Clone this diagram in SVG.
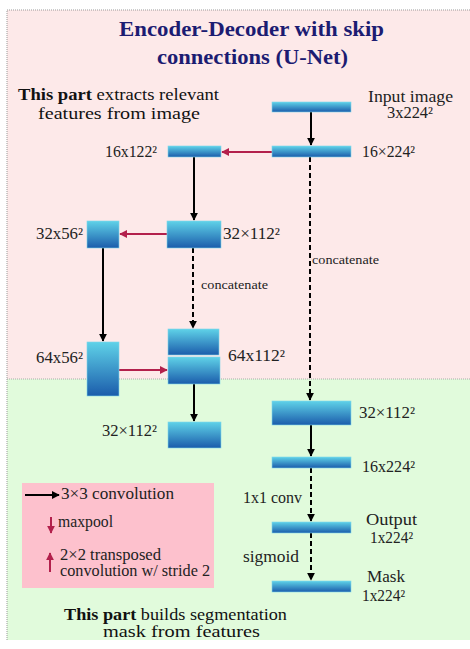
<svg xmlns="http://www.w3.org/2000/svg" width="470" height="649" viewBox="0 0 470 649">
<defs>
<linearGradient id="g" x1="0" y1="0" x2="0" y2="1">
<stop offset="0" stop-color="#5fd2e8"/>
<stop offset="1" stop-color="#1b5cab"/>
</linearGradient>
<marker id="ab" viewBox="0 0 10 10" refX="9" refY="5" markerWidth="8" markerHeight="8" markerUnits="userSpaceOnUse" orient="auto"><path d="M0,0 L10,5 L0,10 z" fill="#000"/></marker>
<marker id="ar" viewBox="0 0 10 10" refX="9" refY="5" markerWidth="8" markerHeight="8" markerUnits="userSpaceOnUse" orient="auto"><path d="M0,0 L10,5 L0,10 z" fill="#b3204c"/></marker>
</defs>
<style>
.box{fill:url(#g);stroke:#7fd8ec;stroke-width:0.6}
.t{font-family:"Liberation Serif","Times New Roman",serif;font-size:16px;fill:#222}
.s{font-family:"Liberation Serif","Times New Roman",serif;font-size:13px;fill:#222}
.b{font-family:"Liberation Serif","Times New Roman",serif;font-size:17px;fill:#111}
.title{font-family:"Liberation Serif","Times New Roman",serif;font-size:21px;font-weight:bold;fill:#1c1c72}
.blk{stroke:#000;stroke-width:2;fill:none;marker-end:url(#ab)}
.dsh{stroke:#000;stroke-width:2;fill:none;stroke-dasharray:5,3;marker-end:url(#ab)}
.red{stroke:#b3204c;stroke-width:2;fill:none;marker-end:url(#ar)}
</style>
<rect x="0" y="0" width="470" height="649" fill="#ffffff"/>
<rect x="7" y="10" width="463" height="369" fill="#fde9e9"/>
<rect x="7" y="379" width="463" height="261" fill="#e1fbdc"/>
<path d="M7,640 V10 H470" stroke="#999" stroke-width="1" stroke-dasharray="1,1" fill="none"/>
<path d="M7,379 H470" stroke="#aaa" stroke-width="1" stroke-dasharray="1,1" fill="none"/>
<g id="title">
<text class="title" x="119" y="36" textLength="265" lengthAdjust="spacingAndGlyphs">Encoder-Decoder with skip</text>
<text class="title" x="157" y="64" textLength="191" lengthAdjust="spacingAndGlyphs">connections (U-Net)</text>
</g>
<text class="b" x="18" y="100" textLength="201" lengthAdjust="spacingAndGlyphs"><tspan font-weight="bold">This part</tspan> extracts relevant</text>
<text class="b" x="38" y="119" textLength="162" lengthAdjust="spacingAndGlyphs">features from image</text>
<g id="edges">
<path class="blk" d="M311,112 V145"/>
<path class="red" d="M272,152 H222"/>
<path class="blk" d="M194,157 V220"/>
<path class="red" d="M167,234 H120"/>
<path class="blk" d="M103,248 V341"/>
<path class="dsh" d="M193,248 V328"/>
<path class="red" d="M119,370 H167"/>
<path class="dsh" d="M310,157 V400"/>
<path class="blk" d="M194,384 V421"/>
<path class="blk" d="M311,425 V456"/>
<path class="dsh" d="M311,468 V521"/>
<path class="dsh" d="M311,533 V580"/>
</g>
<text class="s" x="312" y="264" textLength="67" lengthAdjust="spacingAndGlyphs">concatenate</text>
<text class="s" x="201" y="289" textLength="67" lengthAdjust="spacingAndGlyphs">concatenate</text>
<g id="input"><rect class="box" x="272" y="102" width="79" height="10"/>
<text class="t" x="368" y="102" textLength="85" lengthAdjust="spacingAndGlyphs">Input image</text><text class="t" x="387" y="118" textLength="46" lengthAdjust="spacingAndGlyphs">3x224²</text></g>
<g id="enc1"><rect class="box" x="272" y="146" width="79" height="11"/><text class="t" x="362" y="157" textLength="53" lengthAdjust="spacingAndGlyphs">16×224²</text></g>
<g id="pool1"><rect class="box" x="168" y="146" width="53" height="11"/><text class="t" x="105" y="157" textLength="52" lengthAdjust="spacingAndGlyphs">16x122²</text></g>
<g id="enc2"><rect class="box" x="167" y="221" width="54" height="27"/><text class="t" x="223" y="239" textLength="57" lengthAdjust="spacingAndGlyphs">32×112²</text></g>
<g id="pool2"><rect class="box" x="87" y="221" width="32" height="27"/><text class="t" x="36" y="239" textLength="47" lengthAdjust="spacingAndGlyphs">32x56²</text></g>
<g id="bottleneck"><rect class="box" x="87" y="342" width="32" height="54"/><text class="t" x="36" y="363" textLength="47" lengthAdjust="spacingAndGlyphs">64x56²</text></g>
<g id="concat2"><rect class="box" x="168" y="329" width="51" height="26"/><rect class="box" x="168" y="357" width="52" height="27"/><text class="t" x="228" y="361" textLength="57" lengthAdjust="spacingAndGlyphs">64x112²</text></g>
<g id="dec2"><rect class="box" x="168" y="422" width="53" height="26"/><text class="t" x="102" y="436" textLength="55" lengthAdjust="spacingAndGlyphs">32×112²</text></g>
<g id="concat1"><rect class="box" x="272" y="401" width="79" height="24"/><text class="t" x="359" y="418" textLength="56" lengthAdjust="spacingAndGlyphs">32×112²</text></g>
<g id="dec1"><rect class="box" x="272" y="457" width="79" height="11"/><text class="t" x="362" y="472" textLength="53" lengthAdjust="spacingAndGlyphs">16x224²</text></g>
<text class="t" x="243" y="503" textLength="59" lengthAdjust="spacingAndGlyphs">1x1 conv</text>
<g id="output"><rect class="box" x="272" y="522" width="79" height="11"/><text class="t" x="366" y="525" textLength="51" lengthAdjust="spacingAndGlyphs">Output</text><text class="t" x="370" y="543" textLength="43" lengthAdjust="spacingAndGlyphs">1x224²</text></g>
<text class="t" x="243" y="562" textLength="56" lengthAdjust="spacingAndGlyphs">sigmoid</text>
<g id="mask"><rect class="box" x="272" y="581" width="79" height="11"/><text class="t" x="367" y="582" textLength="38" lengthAdjust="spacingAndGlyphs">Mask</text><text class="t" x="362" y="601" textLength="43" lengthAdjust="spacingAndGlyphs">1x224²</text></g>
<g id="legend">
<rect x="22" y="483" width="192" height="105" fill="#fdc1cd"/>
<path class="blk" d="M25,495 H59"/>
<text class="t" x="61" y="499" textLength="113" lengthAdjust="spacingAndGlyphs">3×3 convolution</text>
<path class="red" d="M51,517 V533"/>
<text class="t" x="58" y="527" textLength="55" lengthAdjust="spacingAndGlyphs">maxpool</text>
<path class="red" d="M50,572 V553"/>
<text class="t" x="60" y="560" textLength="101" lengthAdjust="spacingAndGlyphs">2×2 transposed</text>
<text class="t" x="60" y="576" textLength="150" lengthAdjust="spacingAndGlyphs">convolution w/ stride 2</text>
</g>
<text class="b" x="64" y="620" font-size="16" textLength="223" lengthAdjust="spacingAndGlyphs"><tspan font-weight="bold">This part</tspan> builds segmentation</text>
<text class="b" x="103" y="637" font-size="16" textLength="157" lengthAdjust="spacingAndGlyphs">mask from features</text>
</svg>
